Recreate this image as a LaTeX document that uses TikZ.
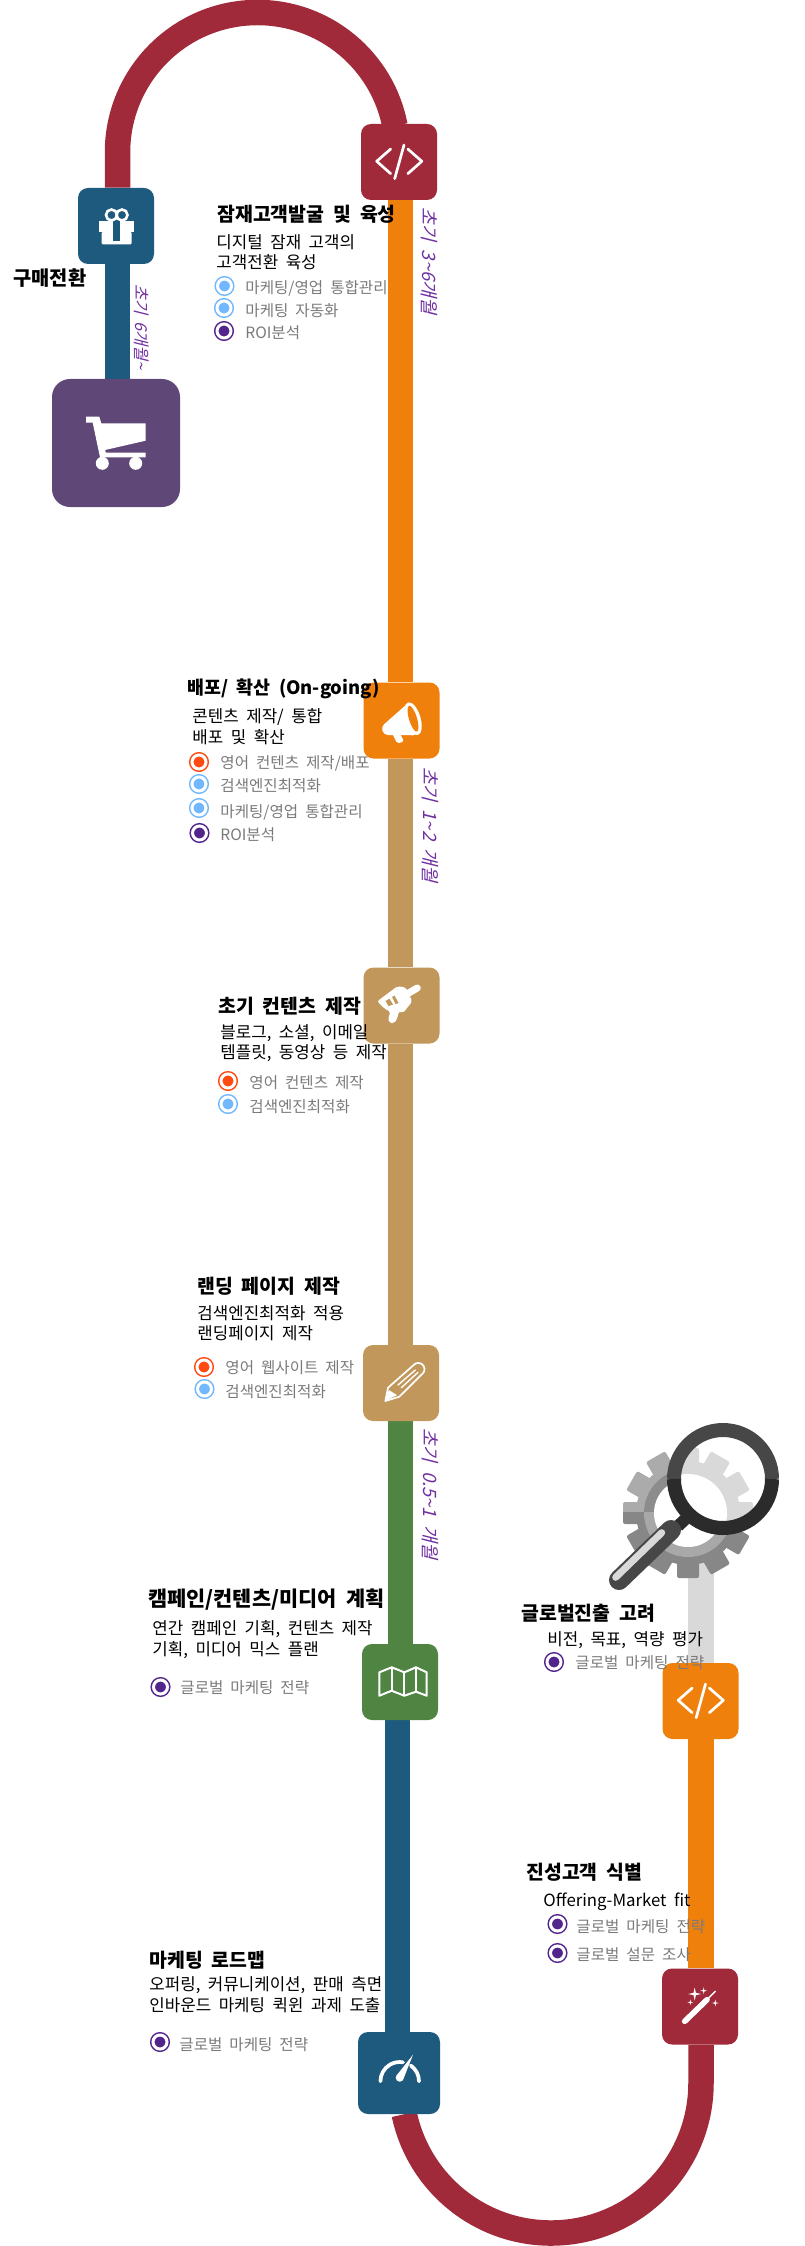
\documentclass[tikz,border=0pt]{standalone}
\usepackage{fontspec}
\setmainfont[WordSpace=2]{Noto Sans CJK KR}
\newfontfamily\slfont[FakeSlant=0.25, WordSpace=2]{Noto Sans CJK KR}
\usetikzlibrary{backgrounds}
\definecolor{redC}{HTML}{A12A3A}
\definecolor{navyC}{HTML}{1D5A7E}
\definecolor{orangeC}{HTML}{F0800C}
\definecolor{tanC}{HTML}{C1975B}
\definecolor{greenC}{HTML}{4F8443}
\definecolor{purpleC}{HTML}{5F4777}
\definecolor{dotR}{HTML}{FF4A12}
\definecolor{dotB}{HTML}{71B8FF}
\definecolor{dotP}{HTML}{53248C}
\definecolor{lblC}{HTML}{7030A0}
\tikzstyle{box}=[rectangle, rounded corners=5pt, inner sep=0pt, minimum width=38pt, minimum height=38pt, fill=#1]
\tikzstyle{bar}=[line width=12.75pt, draw=#1]
\tikzstyle{head}=[inner sep=0pt, anchor=west, font=\fontsize{9.7}{11}\selectfont\bfseries]
\tikzstyle{body}=[inner sep=0pt, anchor=west, font=\fontsize{8.4}{10}\selectfont]
\tikzstyle{item}=[inner sep=0pt, anchor=west, text=black!52, font=\fontsize{7.8}{9}\selectfont]
\tikzstyle{dot}=[circle, inner sep=0pt, outer sep=0pt, minimum size=7pt, fill=#1, draw=#1, double=white, double distance=1.5pt, line width=.75pt]
\tikzstyle{lbl}=[inner sep=0pt, rotate=-90, text=lblC, font=\fontsize{9.2}{10}\slfont]
\tikzstyle{icon}=[line width=1.35pt, draw=white, line cap=round, line join=round]
\tikzset{codeicon/.pic={
	\draw[icon] (-8.3,-13) -- (-22.3,-.7) -- (-8.3,11.7);
	\draw[icon] (8.8,-13) -- (22.8,-.7) -- (8.8,11.7);
	\draw[icon] (5,-17) -- (-4.3,16.7);
}}
\tikzset{spark/.pic={
	\fill[white] (0,-1) -- (.18,-.18) -- (1,0) -- (.18,.18) -- (0,1) -- (-.18,.18) -- (-1,0) -- (-.18,-.18) -- cycle;
}}
\newcommand{\gearshape}[3]{
	\fill[#1] (688,1513) circle (#3);
	\foreach \a in {0,30,...,330}
		\fill[#1, rounded corners=1pt, rotate around={\a:(688,1513)}] (677,1448) rectangle (699,1470);
	\fill[#2] (688,1513) circle (44);
}
\begin{document}
\begin{tikzpicture}[x=.5pt, y=-.5pt]
	\useasboundingbox (0,0) rectangle (804,2246);

	%The stations, top to bottom
	\draw (399,162) node[box=redC] (code) {};
	\draw (116,226) node[box=navyC] (gift) {};
	\draw (116,443) node[box=purpleC, rounded corners=9pt, minimum width=64pt, minimum height=64pt] (cart) {};
	\draw (401.5,720.5) node[box=orangeC] (horn) {};
	\draw (401.5,1005.5) node[box=tanC] (brush) {};
	\draw (401,1383) node[box=tanC] (pencil) {};
	\draw (400,1682) node[box=greenC] (map) {};
	\draw (399,2073) node[box=navyC, minimum width=41pt, minimum height=41pt] (gauge) {};
	\draw (700,2006.5) node[box=redC] (wand) {};
	\draw (700.5,1701) node[box=orangeC] (codeb) {};
	\coordinate (arcTop) at (117.5,152.5);
	\coordinate (arcBot) at (701,2083);
	\coordinate (hub) at (701,1560);

	%The road
	\begin{pgfonlayer}{background}
		\draw[bar=redC] ([xshift=.75pt]gift.north) -- (arcTop) arc[start angle=180, end angle=349, radius=140];
		\draw[bar=navyC] ([xshift=.75pt]gift.south) -- ([xshift=.75pt]cart.north);
		\draw[bar=orangeC] ([xshift=.75pt]code.south) -- ([xshift=-.5pt]horn.north);
		\draw[bar=tanC] ([xshift=-.5pt]horn.south) -- ([xshift=-.5pt]brush.north);
		\draw[bar=tanC] ([xshift=-.5pt]brush.south) -- ([xshift=-.25pt]pencil.north);
		\draw[bar=greenC] ([xshift=-.25pt]pencil.south) -- ([xshift=.25pt]map.north);
		\draw[bar=navyC] ([xshift=-1.25pt]map.south) -- ([xshift=-.75pt]gauge.north);
		\draw[bar=orangeC] ([xshift=.5pt]wand.north) -- ([xshift=.25pt]codeb.south);
		\draw[bar=black!15] ([xshift=.25pt]codeb.north) -- (hub);
		\draw[bar=redC] ([xshift=.5pt]wand.south) -- (arcBot) arc[start angle=0, end angle=168, radius=150];
	\end{pgfonlayer}

	%The icons
	\pic at (399,162) {codeicon};
	\pic at (700.5,1701) {codeicon};

	\fill[white] (99,220.7) rectangle (134.3,232);
	\fill[white, rounded corners=.5pt] (101.7,232) rectangle (131.7,244.3);
	\fill[navyC] (112.7,220.7) rectangle (120,240.7);
	\draw[white, line width=1.3pt] (111.5,215) circle (5.5) (122,215) circle (5.5);

	\fill[white] (86,416.7) -- (99.3,416.7) -- (101.3,423.3) -- (145.7,423.3) -- (145.7,440.7) -- (105,450) -- (106,452.7) -- (145.7,452.7) -- (145.7,457.3) -- (100,457.3) -- (92.7,422.7) -- (86,422.7) -- cycle;
	\fill[white] (102.3,463.3) circle (6.5) (135.7,463.3) circle (6.5);

	\fill[white, rounded corners=2pt] (407.3,703.7) -- (381,727) -- (384,735) -- (417.3,735.3) -- cycle;
	\fill[white, rounded corners=1pt] (392.3,733.7) -- (397.3,743.7) -- (404,741.3) -- (399,732) -- cycle;
	\begin{scope}[shift={(413,718.7)}, rotate=17]
		\fill[white] (0,0) ellipse[x radius=7.5, y radius=17];
		\fill[orangeC] (0,0) ellipse[x radius=4, y radius=13.5];
	\end{scope}

	\draw[white, line width=3.5pt, line cap=round] (417.3,988) -- (405.7,994.7);
	\fill[white, rounded corners=1pt] (377.3,1001.3) -- (397.3,986.3) -- (405.7,987.3) -- (412.3,1001.3) -- (405.7,1009.7) -- (403.3,1013) -- (399,1011.3) -- (397.3,1018) -- (394.7,1023) -- (389.3,1023) -- (388,1018) -- (390.7,1012) -- (384.7,1008.7) -- cycle;
	\fill[tanC] (385.5,1001) -- (389.5,998.7) -- (393,1004.5) -- (388.5,1006) -- cycle;
	\fill[tanC] (392,997) -- (394.5,995.5) -- (398.5,1003) -- (395.5,1004) -- cycle;

	\draw[icon, line width=.85pt] (385.3,1401) -- (388,1387.7) -- (413.7,1365) arc[start angle=222, end angle=400, radius=6.2] -- (399.3,1396.7) -- cycle;
	\fill[white] (385.3,1401) -- (388.7,1390) -- (397,1395) -- cycle;
	\draw[icon, line width=.7pt] (398,1385) -- (415.3,1370) (401.3,1387.7) -- (418,1372.3);

	\draw[icon, line width=1pt] (379.3,1672.3) -- (391.7,1667.3) -- (404.3,1672.3) -- (416,1667.3) -- (426.7,1672.3) -- (426.7,1695.7) -- (416,1691.7) -- (404.3,1695.7) -- (391.7,1690.7) -- (379.3,1695.7) -- cycle;
	\draw[icon, line width=1pt] (391.7,1667.3) -- (391.7,1690.7) (404.3,1672.3) -- (404.3,1695.7) (416,1667.3) -- (416,1691.7);

	\draw[white, line width=2.8pt, line cap=round] (684.7,2021.3) -- (707,1999.7);
	\draw[icon, line width=.7pt] (707,1999.7) -- (715.3,1991.3);
	\pic[scale=6.5] at (694.7,1994) {spark};
	\pic[scale=3.5] at (703.7,1990.7) {spark};
	\pic[scale=3] at (690.3,2002.3) {spark};
	\pic[scale=3.5] at (715.3,2003) {spark};

	\draw[white, line width=1.85pt, line cap=round] (380.4,2081.3) arc[start angle=180, end angle=280, radius=19.3];
	\draw[white, line width=1.85pt, line cap=round] (410.8,2065.5) arc[start angle=305, end angle=360, radius=19.3];
	\fill[white] (413,2054.7) -- (403.2,2079.4) -- (396.5,2075.5) -- cycle;
	\fill[white] (399.7,2077.7) circle (4);

	%The gear and the glass
	\begin{scope}
		\clip (600,1400) rectangle (804,1512);
		\gearshape{black!33}{black!45}{52}
	\end{scope}
	\begin{scope}
		\clip (600,1512) rectangle (804,1620);
		\gearshape{black!47}{black!34}{52}
	\end{scope}
	\fill[white] (688,1513) circle (34);
	\begin{scope}
		\clip (723,1478) circle (44);
		\fill[white] (660,1420) rectangle (790,1540);
		\gearshape{black!15}{black!15}{52}
		\fill[white] (688,1513) circle (39);
	\end{scope}
	\draw[line width=7pt, draw=black!72] (674,1479) arc[start angle=180, end angle=360, radius=49];
	\draw[line width=7pt, draw=black!83] (674,1479) arc[start angle=180, end angle=0, radius=49];
	\draw[line width=6pt, draw=black!83] (678,1526) -- (692,1513);
	\draw[line width=10pt, draw=black!72, line cap=round] (671,1530) -- (619,1580);
	\draw[line width=3.5pt, draw=black!15, line cap=round] (661.7,1532.7) -- (615.7,1577.3);

	%The upper left part
	\draw (13,278) node[head, font=\fontsize{9.9}{11}\selectfont\bfseries] (buy) {구매전환};
	\draw (217,214) node[head] (h1) {잠재고객발굴 및 육성};
	\draw (216,242) node[body] (b1a) {디지털 잠재 고객의};
	\draw (216,262) node[body] (b1b) {고객전환 육성};
	\draw (224.5,286) node[dot=dotB] (d1a) {};
	\draw (224,308) node[dot=dotB] (d1b) {};
	\draw (224,331) node[dot=dotP] (d1c) {};
	\draw (245,288) node[item] (i1a) {마케팅/영업 통합관리};
	\draw (245,311) node[item] (i1b) {마케팅 자동화};
	\draw (245,333) node[item] (i1c) {ROI분석};

	%The second group
	\draw (187,689) node[head, font=\fontsize{9.2}{11}\selectfont\bfseries] (h2) {배포/ 확산 (On-going)};
	\draw (192,717) node[body] (b2a) {콘텐츠 제작/ 통합};
	\draw (192,737) node[body] (b2b) {배포 및 확산};
	\draw (199,762) node[dot=dotR] (d2a) {};
	\draw (199,784) node[dot=dotB] (d2b) {};
	\draw (199,808) node[dot=dotB] (d2c) {};
	\draw (199.5,833) node[dot=dotP] (d2d) {};
	\draw (220,763) node[item] (i2a) {영어 컨텐츠 제작/배포};
	\draw (220,786) node[item] (i2b) {검색엔진최적화};
	\draw (220,812) node[item] (i2c) {마케팅/영업 통합관리};
	\draw (220,835) node[item] (i2d) {ROI분석};

	%The third group
	\draw (218,1006) node[head] (h3) {초기 컨텐츠 제작};
	\draw (220,1033) node[body] (b3a) {블로그, 소셜, 이메일};
	\draw (220,1053) node[body] (b3b) {템플릿, 동영상 등 제작};
	\draw (228,1081) node[dot=dotR] (d3a) {};
	\draw (228,1104) node[dot=dotB] (d3b) {};
	\draw (249,1083) node[item] (i3a) {영어 컨텐츠 제작};
	\draw (249,1107) node[item] (i3b) {검색엔진최적화};

	%The fourth group
	\draw (197,1286) node[head] (h4) {랜딩 페이지 제작};
	\draw (197,1313) node[body] (b4a) {검색엔진최적화 적용};
	\draw (197,1333) node[body] (b4b) {랜딩페이지 제작};
	\draw (204,1367) node[dot=dotR] (d4a) {};
	\draw (204.5,1389) node[dot=dotB] (d4b) {};
	\draw (225,1368) node[item] (i4a) {영어 웹사이트 제작};
	\draw (225,1392) node[item] (i4b) {검색엔진최적화};

	%The fifth group
	\draw (148,1600) node[head, font=\fontsize{10.4}{11}\selectfont\bfseries] (h5) {캠페인/컨텐츠/미디어 계획};
	\draw (152,1629) node[body] (b5a) {연간 캠페인 기획, 컨텐츠 제작};
	\draw (152,1650) node[body] (b5b) {기획, 미디어 믹스 플랜};
	\draw (160.5,1687) node[dot=dotP] (d5a) {};
	\draw (180,1688) node[item] (i5a) {글로벌 마케팅 전략};

	%The sixth group
	\draw (149,1960) node[head] (h6) {마케팅 로드맵};
	\draw (149,1985) node[body] (b6a) {오퍼링, 커뮤니케이션, 판매 측면};
	\draw (149,2005) node[body] (b6b) {인바운드 마케팅 퀵윈 과제 도출};
	\draw (160,2042) node[dot=dotP] (d6a) {};
	\draw (179,2045) node[item] (i6a) {글로벌 마케팅 전략};

	%The right side
	\draw (521,1613) node[head] (h7) {글로벌진출 고려};
	\draw (547,1640) node[body] (b7a) {비전, 목표, 역량 평가};
	\draw (554,1662) node[dot=dotP] (d7a) {};
	\draw (575,1663) node[item] (i7a) {글로벌 마케팅 전략};
	\draw (526,1872) node[head] (h8) {진성고객 식별};
	\draw (543,1902) node[body] (b8a) {Offering-Market fit};
	\draw (557.5,1924) node[dot=dotP] (d8a) {};
	\draw (557.5,1953) node[dot=dotP] (d8b) {};
	\draw (576,1927) node[item] (i8a) {글로벌 마케팅 전략};
	\draw (576,1955) node[item] (i8b) {글로벌 설문 조사};

	%The time spans
	\draw (142,327) node[lbl, font=\fontsize{8.2}{10}\slfont] (m1) {초기 6개월\textasciitilde};
	\draw (429,261) node[lbl] (m2) {초기 3\textasciitilde 6개월};
	\draw (430,825) node[lbl] (m3) {초기 1\textasciitilde 2 개월};
	\draw (430,1494) node[lbl] (m4) {초기 0.5\textasciitilde 1 개월};
\end{tikzpicture}
\end{document}
